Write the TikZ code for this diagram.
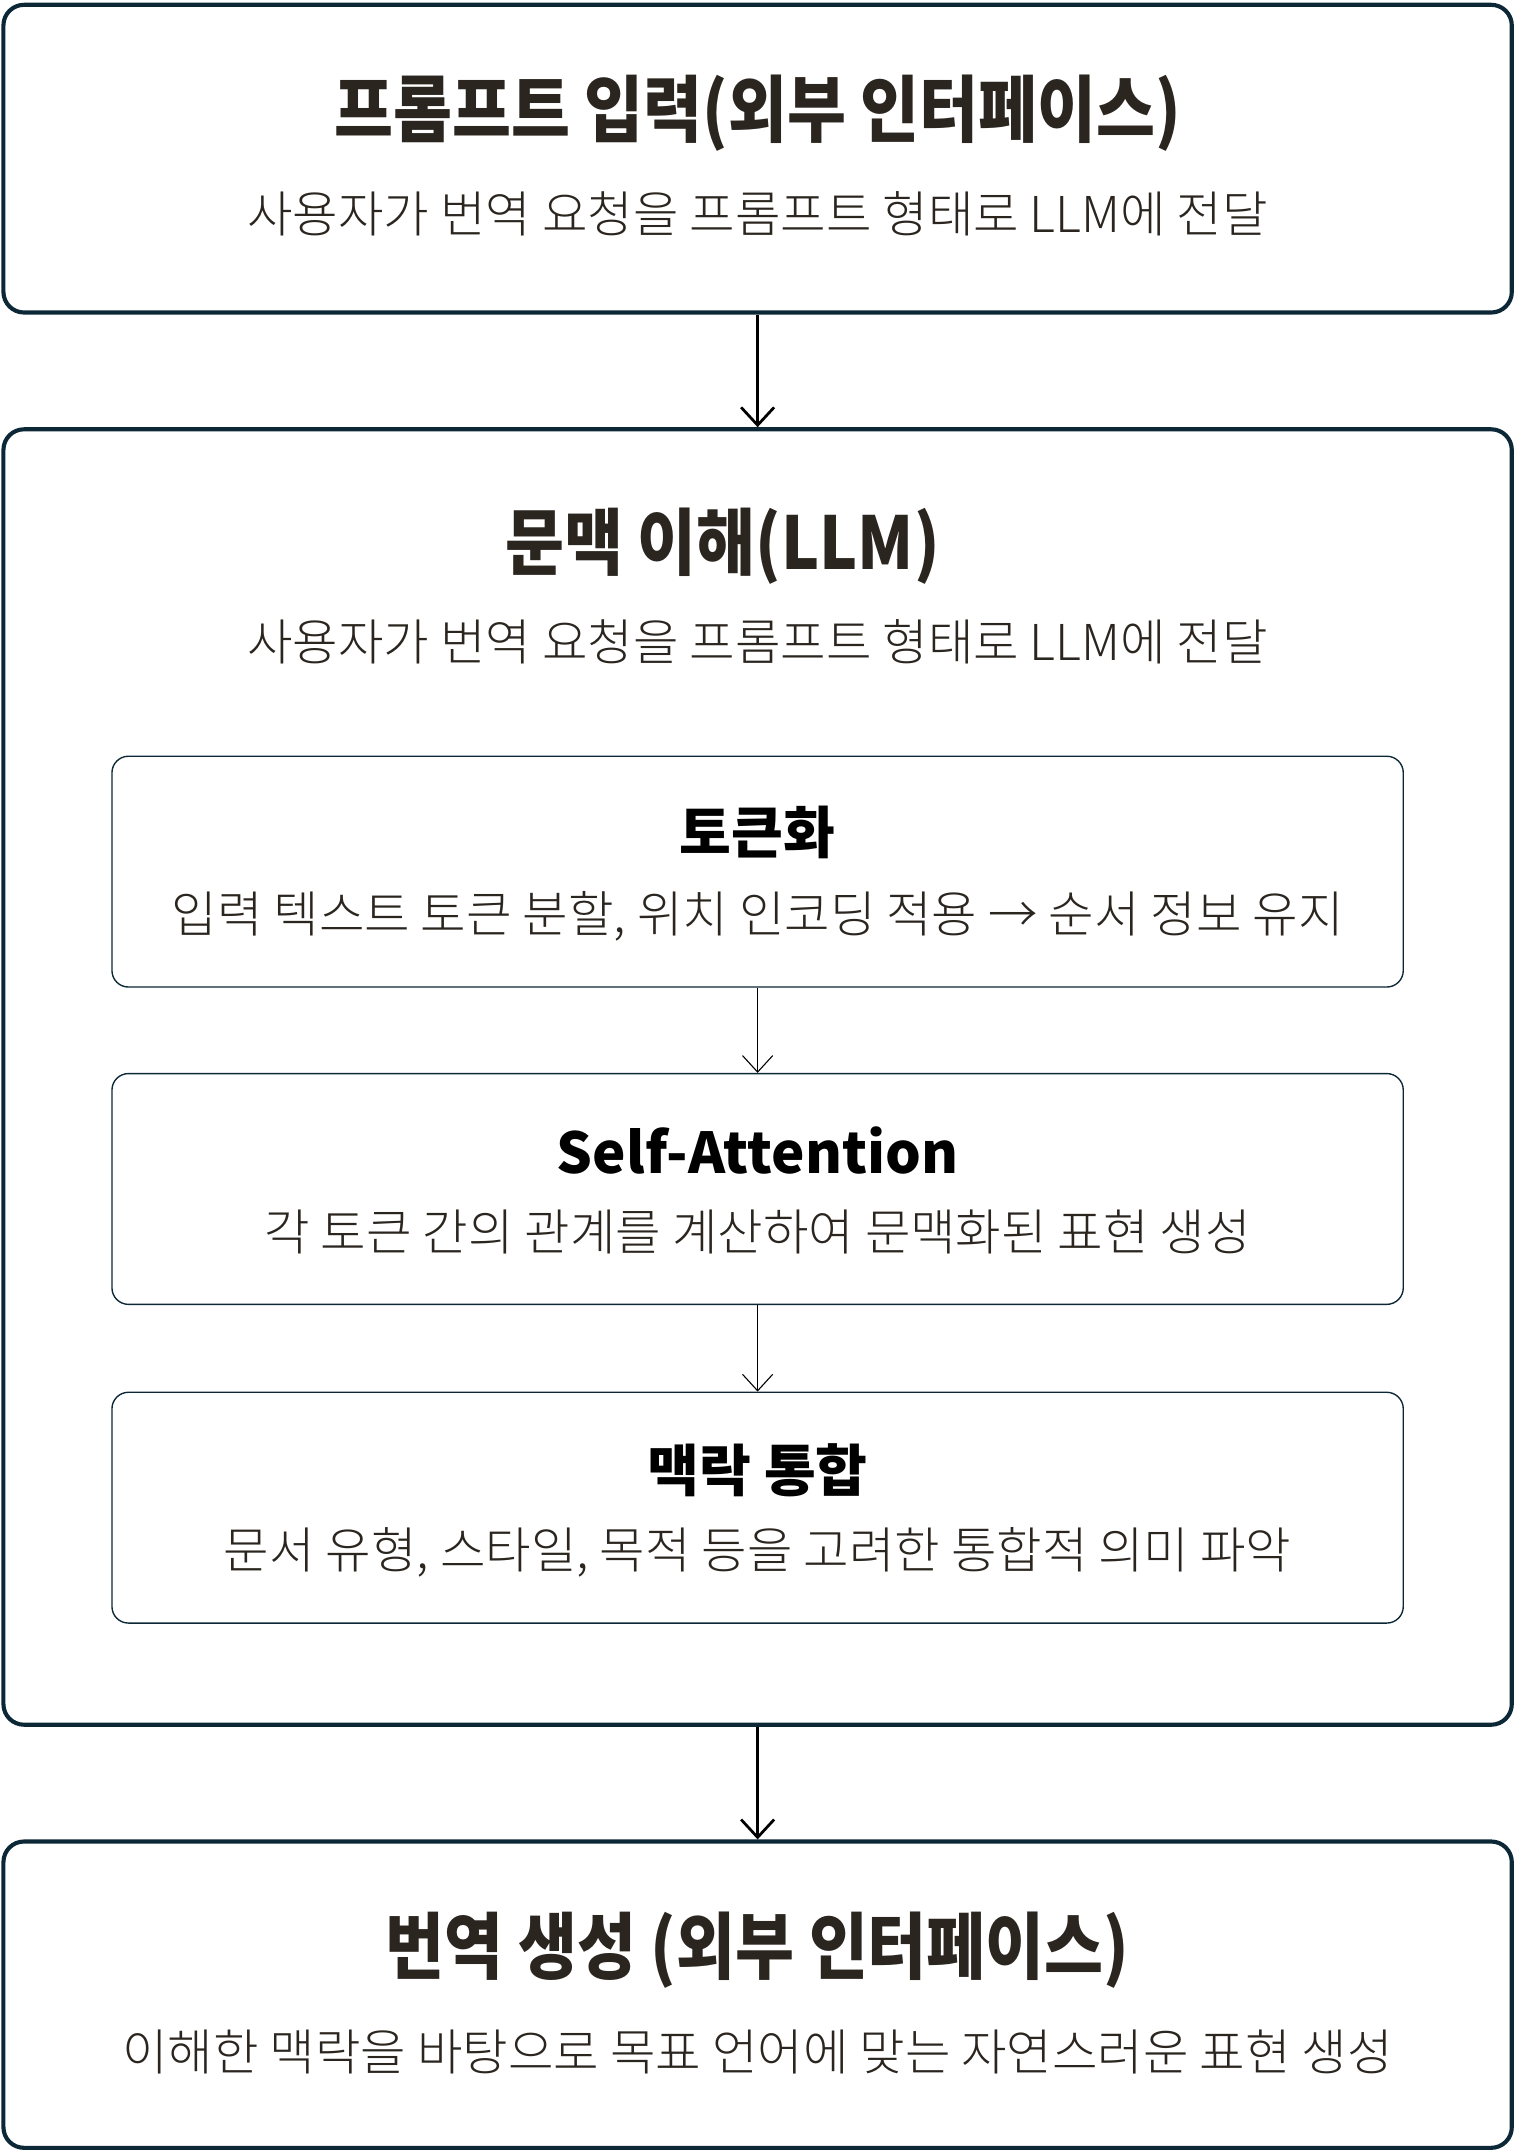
\documentclass[tikz,border=0pt]{standalone}
\usepackage{fontspec}
\setmainfont{Noto Sans CJK KR}
\newfontfamily\titlefont{Noto Sans CJK KR}[FakeStretch=0.88]
\newfontfamily\descfont{Noto Sans CJK KR Light}
\usetikzlibrary{arrows.meta}
\definecolor{edge}{HTML}{0C2736}
\definecolor{ink}{HTML}{2B251F}
\tikzset{
  outerbox/.style={draw=edge, line width=3pt, rounded corners=15pt, minimum width=1098pt},
  innerbox/.style={draw=edge, line width=1pt, rounded corners=12pt, minimum width=940pt, minimum height=168pt},
  bigtitle/.style={anchor=base, inner sep=0pt, text=ink, font=\titlefont\bfseries\fontsize{53}{53}\selectfont},
  smalltitle/.style={anchor=base, inner sep=0pt, text=black, font=\bfseries\fontsize{41}{41}\selectfont},
  desc/.style={anchor=base, inner sep=0pt, text=ink, font=\descfont\fontsize{36}{36}\selectfont},
  bigarrow/.style={-{Straight Barb[length=13pt,width=24pt]}, line width=2pt, black},
  smallarrow/.style={-{Straight Barb[length=12pt,width=22pt]}, line width=0.8pt, black}
}

\begin{document}
\begin{tikzpicture}[x=1pt, y=-1pt]
    \useasboundingbox (0,0) rectangle (1103,1568);

    % outer boxes
    \node[outerbox, minimum height=224pt] at (551.5,115.5)  (prompt)  {};
    \node[outerbox, minimum height=943pt] at (551.5,784)    (context) {};
    \node[outerbox, minimum height=223pt] at (551.5,1452)   (output)  {};

    % inner steps
    \node[innerbox] at (551.5,634.5)  (token) {};
    \node[innerbox] at (551.5,865.5)  (attn)  {};
    \node[innerbox] at (551.5,1097.5) (merge) {};

    % texts
    \node[bigtitle] at (551.5,99.5)   (promptT) {프롬프트 입력(외부 인터페이스)};
    \node[desc]     at (551.5,169.5)  (promptD) {사용자가 번역 요청을 프롬프트 형태로 LLM에 전달};
    \node[bigtitle] at (526,414.5)    (contextT) {문맥 이해(LLM)};
    \node[desc]     at (551.5,480.5)  (contextD) {사용자가 번역 요청을 프롬프트 형태로 LLM에 전달};
    \node[smalltitle] at (551.5,621.5)  (tokenT) {토큰화};
    \node[desc]       at (551.5,678.5)  (tokenD) {입력 텍스트 토큰 분할, 위치 인코딩 적용 → 순서 정보 유지};
    \node[smalltitle] at (551.5,854)    (attnT) {Self-Attention};
    \node[desc]       at (551.5,910.5)  (attnD) {각 토큰 간의 관계를 계산하여 문맥화된 표현 생성};
    \node[smalltitle] at (551.5,1085.5) (mergeT) {맥락 통합};
    \node[desc]       at (551.5,1141.5) (mergeD) {문서 유형, 스타일, 목적 등을 고려한 통합적 의미 파악};
    \node[bigtitle] at (551.5,1436.5) (outputT) {번역 생성 (외부 인터페이스)};
    \node[desc]     at (551.5,1507.5) (outputD) {이해한 맥락을 바탕으로 목표 언어에 맞는 자연스러운 표현 생성};

    \draw[bigarrow] (prompt) -- (context);
    \draw[bigarrow] (context) -- (output);
    \draw[smallarrow] (token) -- (attn);
    \draw[smallarrow] (attn) -- (merge);
\end{tikzpicture}
\end{document}
